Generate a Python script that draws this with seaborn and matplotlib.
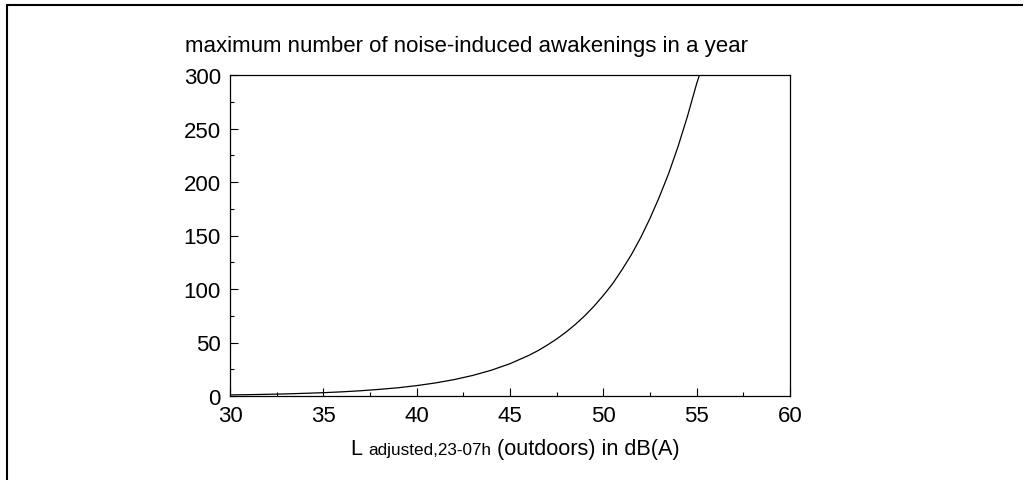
import matplotlib
matplotlib.use("Agg")
import matplotlib.pyplot as plt
from matplotlib.lines import Line2D
from matplotlib.offsetbox import TextArea, HPacker, AnchoredOffsetbox
from matplotlib.ticker import MultipleLocator
import pandas as pd
import seaborn as sns

# Night-time outdoor level (dB(A)) and the maximum yearly number of
# noise-induced awakenings at that level
level_db = [30, 31, 32, 33, 34, 35, 36, 37, 38, 39, 40, 41, 42, 43, 44, 45,
            46, 46.5, 47, 47.5, 48, 48.5, 49, 49.5, 50, 50.5, 51, 51.5, 52,
            52.5, 53, 53.5, 54, 54.5, 55, 55.15]
awakenings = [1.0, 1.25, 1.58, 1.98, 2.5, 3.1, 3.9, 4.9, 6.2, 7.7, 9.7, 12.2,
              15.3, 19.2, 24.1, 30.2, 37.9, 42.4, 47.6, 53.3, 59.7, 66.9,
              74.9, 83.9, 94, 105, 118, 132, 148, 166, 186, 208, 233, 261,
              292, 300]

x_ticks = [30, 35, 40, 45, 50, 55, 60]
y_ticks = [0, 50, 100, 150, 200, 250, 300]

title_text = "maximum number of noise-induced awakenings in a year"
xlabel_main = "L "
xlabel_sub = "adjusted,23-07h"
xlabel_tail = " (outdoors) in dB(A)"

sns.set_theme(style="white")
plt.rcParams["font.family"] = ["Liberation Sans", "DejaVu Sans"]

FS = 16.0
FS_LABEL = 15.6
FS_SUB = 12.3

W, H = 1026, 481
fig = plt.figure(figsize=(W / 100, H / 100), dpi=100)
ax = fig.add_axes([230 / W, 1 - 397 / H, 560 / W, 321 / H])

df = pd.DataFrame({"level": level_db, "awakenings": awakenings})
sns.lineplot(data=df, x="level", y="awakenings", ax=ax, color="black",
             linewidth=0.9, sort=True)

ax.set_xlim(30, 60)
ax.set_ylim(0, 300)
ax.set_xticks(x_ticks)
ax.set_yticks(y_ticks)
ax.xaxis.set_minor_locator(MultipleLocator(2.5))
ax.yaxis.set_minor_locator(MultipleLocator(25))
ax.tick_params(which="both", direction="in", top=False, right=False,
               bottom=True, left=True, colors="black", labelsize=FS)
ax.tick_params(which="major", length=5.8, width=0.8)
ax.tick_params(which="minor", length=2.9, width=0.8)
ax.tick_params(axis="y", which="major", pad=6.5)
ax.tick_params(axis="x", which="major", pad=6.5)
ax.set_xlabel("")
ax.set_ylabel("")
for sp in ax.spines.values():
    sp.set_color("black")
    sp.set_linewidth(0.9)

# axis title above the plot
fig.text(185 / W, 1 - 52 / H, title_text, fontsize=FS, ha="left",
         va="baseline", color="black")

# x-axis label with a smaller subscripted part on the same baseline
parts = [
    TextArea(xlabel_main, textprops=dict(size=FS_LABEL, color="black")),
    TextArea(xlabel_sub, textprops=dict(size=FS_SUB, color="black")),
    TextArea(xlabel_tail, textprops=dict(size=FS_LABEL, color="black")),
]
packed = HPacker(children=parts, align="baseline", pad=0, sep=0)
label_box = AnchoredOffsetbox(loc="upper center", child=packed, pad=0,
                              borderpad=0, frameon=False,
                              bbox_to_anchor=(515 / W, 1 - 439 / H),
                              bbox_transform=fig.transFigure)
fig.add_artist(label_box)

# outer frame (left and top edges)
fig.add_artist(Line2D([7 / W, 7 / W, 1023 / W], [0, 1 - 6 / H, 1 - 6 / H],
                      transform=fig.transFigure, color="black",
                      linewidth=1.5, solid_capstyle="butt",
                      solid_joinstyle="miter"))

fig.savefig("out.png", dpi=100)
